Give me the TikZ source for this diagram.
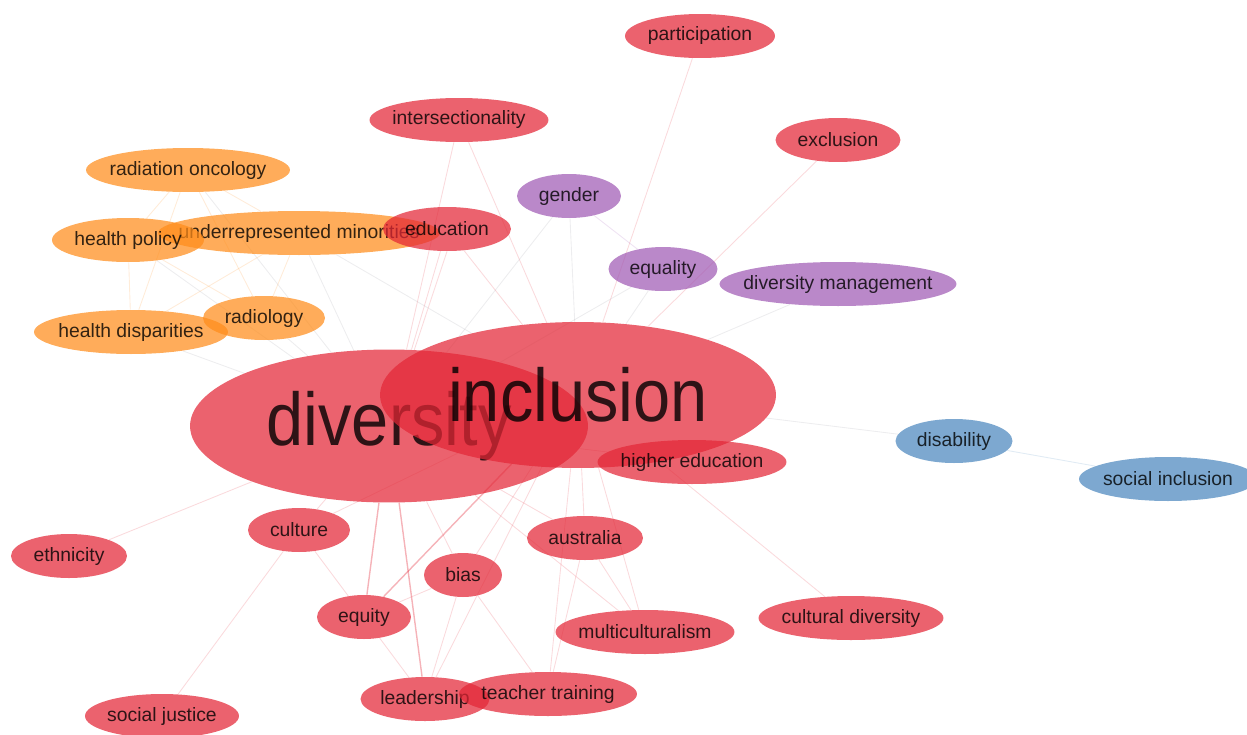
\documentclass[tikz,border=0pt]{standalone}
\usepackage{fontspec}
\setmainfont{Liberation Sans}
\usetikzlibrary{shapes.geometric,backgrounds}

\definecolor{kwred}{RGB}{227,38,54}
\definecolor{kworange}{RGB}{255,140,26}
\definecolor{kwpurple}{RGB}{160,90,180}
\definecolor{kwblue}{RGB}{75,135,190}
\definecolor{kwgray}{RGB}{150,150,160}

\newcommand{\lbl}[1]{\makebox[0pt]{#1}}

\tikzset{
	kw/.style={ellipse, inner sep=0pt, minimum height=8.8mm, minimum width=#1*0.2mm,
		fill opacity=0.72, text opacity=0.8, text=black,
		font=\fontsize{11}{13}\selectfont},
	red kw/.style={kw=#1, fill=kwred},
	orange kw/.style={kw=#1, fill=kworange},
	purple kw/.style={kw=#1, fill=kwpurple},
	blue kw/.style={kw=#1, fill=kwblue},
	big kw/.style={kw=#1, fill=kwred, font=\fontsize{38}{40}\selectfont},
	lnk/.style={line width=0.5pt, opacity=0.17},
	lnk strong/.style={line width=0.8pt, opacity=0.35},
}

\begin{document}
\begin{tikzpicture}[x=0.02cm, y=-0.02cm]
			\useasboundingbox (0,0) rectangle (1247,734);

			% big ones
			\node[big kw=398, minimum height=30.6mm] (diversity) at (389,426) {\lbl{\scalebox{1}[1.12]{diversity}}};
			\node[big kw=396, minimum height=29.2mm] (inclusion) at (578,395) {\lbl{\scalebox{1}[1.12]{inclusion}}};

			% red cluster
			\node[red kw=150] (participation) at (700,36) {\lbl{participation}};
			\node[red kw=179] (intersectionality) at (459,120) {\lbl{intersectionality}};
			\node[red kw=125] (exclusion) at (838,140) {\lbl{exclusion}};
			\node[red kw=189] (highered) at (692,462) {\lbl{higher education}};
			\node[red kw=102] (culture) at (299,530) {\lbl{culture}};
			\node[red kw=116] (australia) at (585,538) {\lbl{australia}};
			\node[red kw=116] (ethnicity) at (69,556) {\lbl{ethnicity}};
			\node[red kw=78] (bias) at (463,575) {\lbl{bias}};
			\node[red kw=94] (equity) at (364,617) {\lbl{equity}};
			\node[red kw=185] (culturaldiv) at (851,618) {\lbl{cultural diversity}};
			\node[red kw=179] (multicult) at (645,632) {\lbl{multiculturalism}};
			\node[red kw=129] (leadership) at (425,699) {\lbl{leadership}};
			\node[red kw=178] (teacher) at (548,694) {\lbl{teacher training}};
			\node[red kw=154] (socialjustice) at (162,716) {\lbl{social justice}};

			% orange cluster
			\node[orange kw=204] (radonc) at (188,170) {\lbl{radiation oncology}};
			\node[orange kw=282] (underrep) at (299,233) {\lbl{underrepresented minorities}};
			\node[orange kw=152] (healthpol) at (128,240) {\lbl{health policy}};
			\node[red kw=128] (education) at (447,229) {\lbl{education}};
			\node[orange kw=194] (healthdisp) at (131,332) {\lbl{health disparities}};
			\node[orange kw=122] (radiology) at (264,318) {\lbl{radiology}};

			% purple cluster
			\node[purple kw=104] (gender) at (569,196) {\lbl{gender}};
			\node[purple kw=109] (equality) at (663,269) {\lbl{equality}};
			\node[purple kw=237] (divman) at (838,284) {\lbl{diversity management}};

			% blue cluster
			\node[blue kw=117] (disability) at (954,441) {\lbl{disability}};
			\node[blue kw=178] (socialincl) at (1168,479) {\lbl{social inclusion}};

			\begin{pgfonlayer}{background}
				\draw[lnk, kwred] (participation) -- (inclusion);
				\draw[lnk, kwred] (exclusion) -- (inclusion);
				\draw[lnk, kwred] (intersectionality) -- (diversity);
				\draw[lnk, kwred] (intersectionality) -- (inclusion);
				\draw[lnk, kwred] (education) -- (diversity);
				\draw[lnk, kwred] (education.south) -- (diversity);
				\draw[lnk, kwred] (education) -- (inclusion);
				\draw[lnk, kwgray] (gender) -- (diversity);
				\draw[lnk, kwgray] (gender) -- (inclusion);
				\draw[lnk, kwpurple] (gender) -- (equality);
				\draw[lnk, kwgray] (equality) -- (inclusion);
				\draw[lnk, kwgray] (equality) -- (diversity);
				\draw[lnk, kwgray] (divman) -- (inclusion);

				\draw[lnk, kworange] (radonc) -- (healthpol);
				\draw[lnk, kworange] (radonc) -- (healthdisp);
				\draw[lnk, kworange] (radonc) -- (radiology);
				\draw[lnk, kworange] (radonc) -- (underrep);
				\draw[lnk, kworange] (healthpol) -- (healthdisp);
				\draw[lnk, kworange] (healthpol) -- (radiology);
				\draw[lnk, kworange] (underrep) -- (healthdisp);
				\draw[lnk, kworange] (underrep) -- (radiology);
				\draw[lnk, kwgray] (radonc) -- (diversity);
				\draw[lnk, kwgray] (healthpol) -- (diversity);
				\draw[lnk, kwgray] (underrep) -- (diversity);
				\draw[lnk, kwgray] (underrep) -- (inclusion);
				\draw[lnk, kwgray] (healthdisp) -- (diversity);
				\draw[lnk, kwgray] (radiology) -- (diversity);

				\draw[lnk, kwgray] (disability) -- (inclusion);
				\draw[lnk, kwblue] (disability) -- (socialincl);

				\draw[lnk, kwred] (ethnicity) -- (diversity);
				\draw[lnk, kwred] (culture) -- (diversity);
				\draw[lnk, kwred] (culture) -- (inclusion);
				\draw[lnk, kwred] (culture) -- (equity);
				\draw[lnk, kwred] (culture) -- (socialjustice);
				\draw[lnk strong, kwred] (equity) -- (diversity);
				\draw[lnk strong, kwred] (equity) -- (inclusion);
				\draw[lnk, kwred] (equity) -- (bias);
				\draw[lnk, kwred] (equity) -- (leadership);
				\draw[lnk, kwred] (bias) -- (diversity);
				\draw[lnk, kwred] (bias) -- (inclusion);
				\draw[lnk, kwred] (bias) -- (teacher);
				\draw[lnk, kwred] (leadership) -- (bias);
				\draw[lnk strong, kwred] (leadership) -- (diversity);
				\draw[lnk, kwred] (leadership) -- (inclusion);
				\draw[lnk, kwred] (teacher) -- (inclusion);
				\draw[lnk, kwred] (australia) -- (inclusion);
				\draw[lnk, kwred] (australia) -- (diversity);
				\draw[lnk, kwred] (australia) -- (multicult);
				\draw[lnk, kwred] (australia) -- (teacher);
				\draw[lnk, kwred] (multicult) -- (inclusion);
				\draw[lnk, kwred] (multicult) -- (diversity);
				\draw[lnk, kwred] (highered) -- (diversity);
				\draw[lnk, kwred] (culturaldiv) -- (inclusion);
			\end{pgfonlayer}
		\end{tikzpicture}
\end{document}
